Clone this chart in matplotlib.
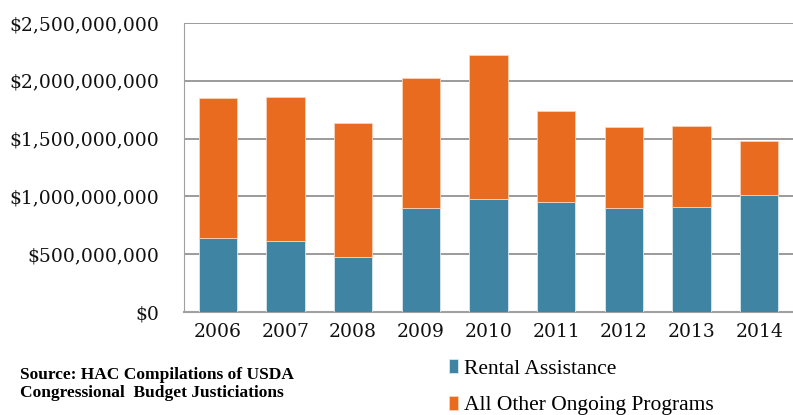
import matplotlib
matplotlib.use("Agg")
import matplotlib.pyplot as plt
from matplotlib.ticker import FuncFormatter

# values
years = ["2006", "2007", "2008", "2009", "2010", "2011", "2012", "2013", "2014"]
rental = [0.644e9, 0.614e9, 0.476e9, 0.903e9, 0.978e9, 0.955e9, 0.903e9, 0.912e9, 1.016e9]
totals = [1.851e9, 1.857e9, 1.638e9, 2.022e9, 2.223e9, 1.742e9, 1.598e9, 1.606e9, 1.477e9]
other = [t - r for t, r in zip(totals, rental)]

blue = "#3F85A3"
orange = "#E86B1F"

plt.rcParams["font.family"] = ["DejaVu Serif"]

fig = plt.figure(figsize=(7.93, 4.15), dpi=100)
ax = fig.add_axes([184 / 793, 1 - 312 / 415, 609 / 793, 289 / 415])

x = range(len(years))
b1 = ax.bar(x, rental, width=0.57, color=blue, edgecolor="#DCE8EE", linewidth=0.6,
            label="Rental Assistance", zorder=3)
b2 = ax.bar(x, other, bottom=rental, width=0.57, color=orange, edgecolor="#F7D2BA",
            linewidth=0.6, label="All Other Ongoing Programs", zorder=3)

ax.set_xlim(-0.5, len(years) - 0.5)
ax.set_ylim(0, 2.5e9)
ax.set_yticks([0, 0.5e9, 1e9, 1.5e9, 2e9, 2.5e9])
ax.yaxis.set_major_formatter(FuncFormatter(lambda v, p: "${:,.0f}".format(v)))
ax.set_xticks(list(x))
ax.set_xticklabels(years)
ax.tick_params(axis="both", length=0, labelsize=13.5, colors="#111111")
ax.tick_params(axis="y", pad=18)
ax.tick_params(axis="x", pad=8)
ax.grid(axis="y", color="#8A8A8A", linewidth=1.2, zorder=0)
for s in ["top", "right"]:
    ax.spines[s].set_visible(False)
ax.spines["left"].set_color("#A0A0A0")
ax.spines["bottom"].set_color("#A0A0A0")
ax.spines["bottom"].set_linewidth(1.5)

fig.legend(handles=[b1, b2], loc="upper left", bbox_to_anchor=(432 / 793, 1 - 342 / 415),
           frameon=False, handlelength=0.4, handleheight=0.6, handletextpad=0.3,
           labelspacing=0.8, borderpad=0.3,
           prop={"family": "Liberation Serif", "size": 15.5})

fig.text(20 / 793, 1 - 384 / 415, "Source: HAC Compilations of USDA\nCongressional  Budget Justiciations",
         family="Liberation Serif", weight="bold", fontsize=12.5, va="center", linespacing=1.1)

fig.savefig("out.png", dpi=100)
